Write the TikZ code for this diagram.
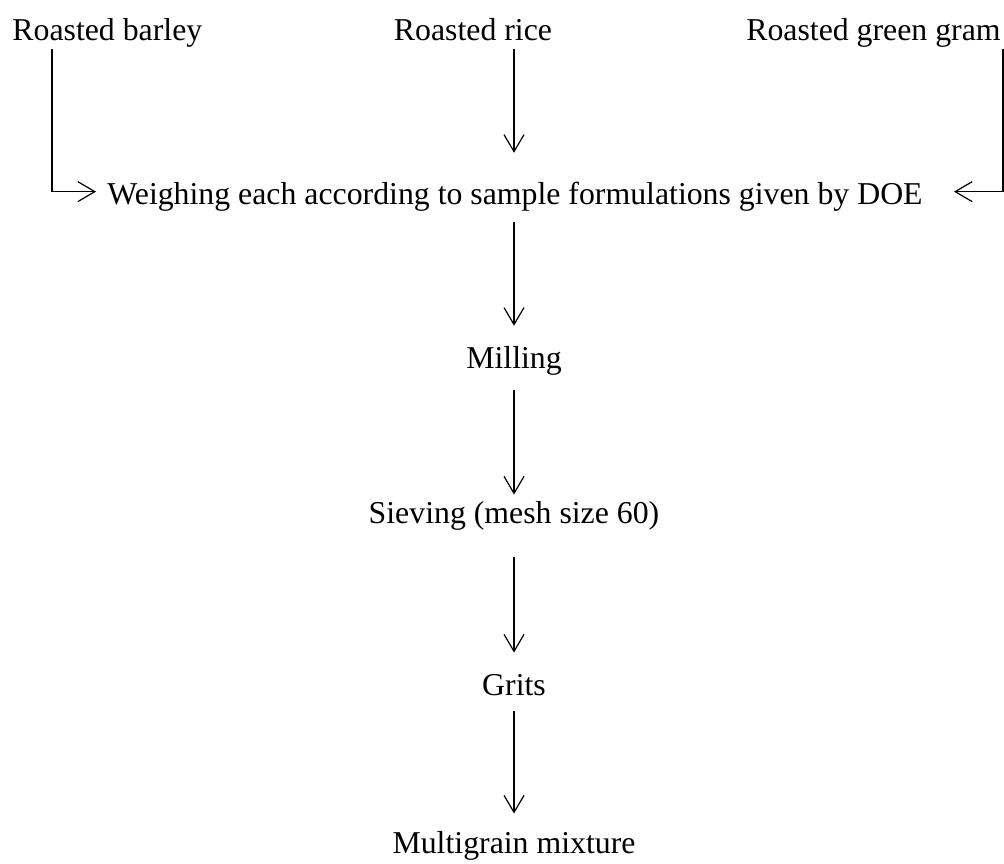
\documentclass[tikz,border=0pt]{standalone}
\usepackage{fontspec}
\setmainfont{Liberation Serif}
\usetikzlibrary{positioning,arrows.meta}

\begin{document}
\begin{tikzpicture}[x=0.5pt,y=-0.5pt,
  lbl/.style={inner sep=0pt,font=\fontsize{15.9}{18}\selectfont},
  flow/.style={line width=0.6pt,-{Straight Barb[length=8.5pt,width=10pt]}}]
\useasboundingbox (0,0) rectangle (1004,863);
\node[lbl,anchor=base west] (barley) at (12,40) {Roasted barley};
\node[lbl,anchor=base] (rice) at (473,40) {Roasted rice};
\node[lbl,anchor=base east] (green) at (1001,40) {Roasted green gram};
\node[lbl,anchor=base] (weigh) at (515,204) {Weighing each according to sample formulations given by DOE};
\node[lbl,anchor=base] (milling) at (514,368) {Milling};
\node[lbl,anchor=base] (sieving) at (514,523) {Sieving (mesh size 60)};
\node[lbl,anchor=base] (grits) at (514,695) {Grits};
\node[lbl,anchor=base] (mixture) at (514,853) {Multigrain mixture};
% inputs
\draw[flow,shorten <=1pt,shorten >=5.5pt] ([xshift=20pt]barley.south west) |- ([yshift=2.3pt]weigh.west);
\draw[flow,shorten <=4pt,shorten >=14.2pt] (rice.south -| milling) -- (weigh.north -| milling);
\draw[flow,shorten <=1pt,shorten >=15.5pt] ([xshift=1pt]green.south east) |- ([yshift=2.3pt]weigh.east);
% main line
\draw[flow,shorten <=5.6pt,shorten >=9.9pt] (weigh.south -| milling) -- (milling);
\draw[flow,shorten <=7.6pt,shorten >=3pt] (milling) -- (sieving);
\draw[flow,shorten <=13.5pt,shorten >=10.5pt] (sieving) -- (grits);
\draw[flow,shorten <=7.5pt,shorten >=8.5pt] (grits) -- (mixture);
\end{tikzpicture}
\end{document}
